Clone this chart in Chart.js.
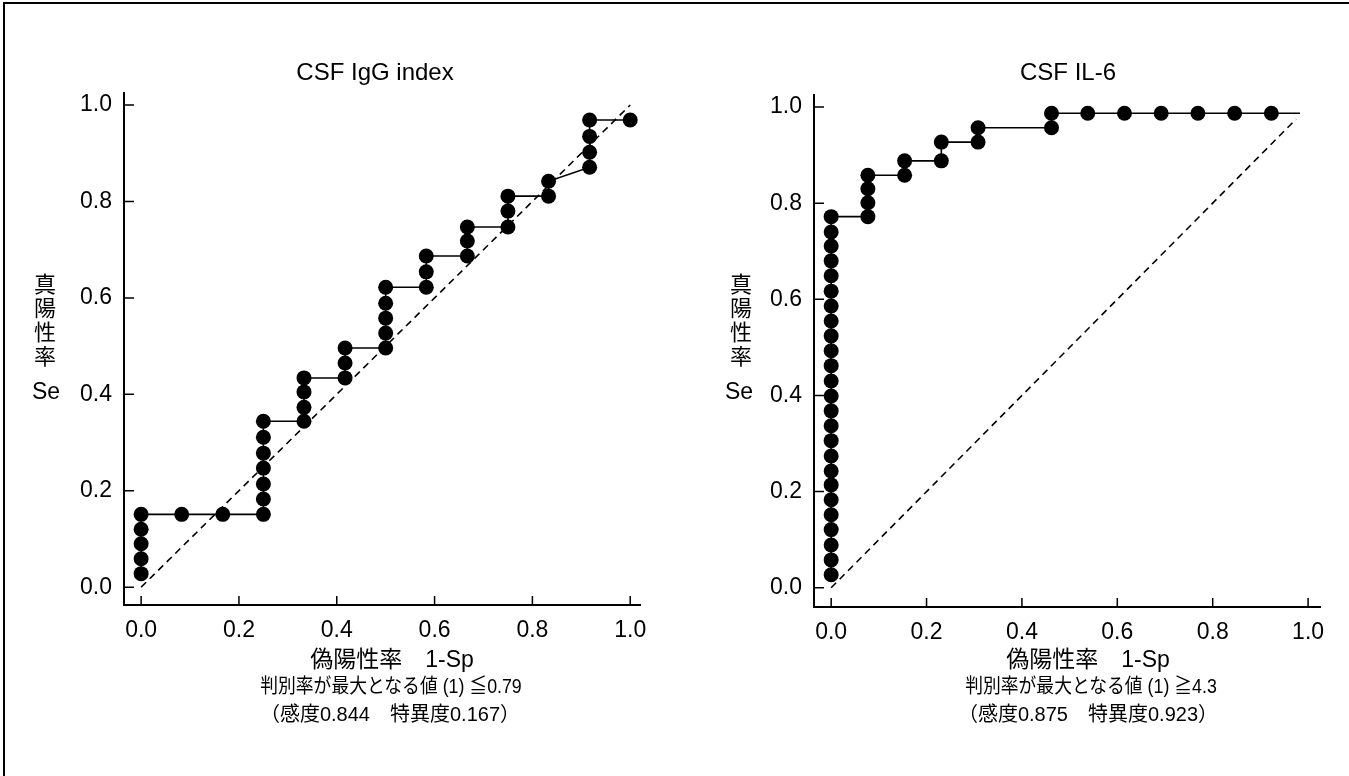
<!DOCTYPE html>
<html>
<head>
<meta charset="utf-8">
<script src="https://cdn.jsdelivr.net/npm/chart.js@4"></script>
<style>
body{margin:0;background:#fff;width:1349px;height:776px;overflow:hidden;position:relative;font-family:"Liberation Sans","Noto Sans CJK JP",sans-serif;color:#000}
.frame{position:absolute;left:3px;top:2px;width:1400px;height:800px;border-left:2px solid #000;border-top:2px solid #000}
canvas{position:absolute;top:0}
.txt{position:absolute;white-space:nowrap;transform:translateX(-50%);line-height:1}
.narrow{transform:translateX(-50%) scaleX(0.89)}
.ylab{position:absolute;transform:translateX(-50%);text-align:center;font-family:"Noto Sans CJK JP";font-size:22px;line-height:24px}
.se{position:absolute;transform:translateX(-50%);font-size:23px;line-height:1}
</style>
</head>
<body>
<div class="frame"></div>
<canvas id="igg" width="674" height="700" style="left:0"></canvas>
<canvas id="il6" width="675" height="700" style="left:674px"></canvas>

<div class="txt" style="left:375px;top:60px;font-size:24px">CSF IgG index</div>
<div class="txt" style="left:1068px;top:60px;font-size:24px">CSF IL-6</div>

<div class="ylab" style="left:45px;top:270px">真<br>陽<br>性<br>率</div>
<div class="se" style="left:46px;top:380px">Se</div>
<div class="ylab" style="left:741px;top:270px">真<br>陽<br>性<br>率</div>
<div class="se" style="left:739px;top:380px">Se</div>

<div class="txt" style="left:392px;top:648px;font-size:23px">偽陽性率　1-Sp</div>
<div class="txt narrow" style="left:391px;top:676px;font-size:20px">判別率が最大となる値 (1) ≦0.79</div>
<div class="txt" style="left:390px;top:704px;font-size:20px">（感度0.844　特異度0.167）</div>
<div class="txt" style="left:1088px;top:648px;font-size:23px">偽陽性率　1-Sp</div>
<div class="txt narrow" style="left:1091px;top:676px;font-size:20px">判別率が最大となる値 (1) ≧4.3</div>
<div class="txt" style="left:1088px;top:704px;font-size:20px">（感度0.875　特異度0.923）</div>

<script>
const tickValues = [0, 0.2, 0.4, 0.6, 0.8, 1.0];

// CSF IgG index (1-Sp, Se)
const iggFpr = [0, 0, 0, 0, 0, 0.083, 0.167, 0.25, 0.25, 0.25, 0.25, 0.25, 0.25, 0.25,
  0.333, 0.333, 0.333, 0.333, 0.417, 0.417, 0.417, 0.5, 0.5, 0.5, 0.5, 0.5,
  0.583, 0.583, 0.583, 0.667, 0.667, 0.667, 0.75, 0.75, 0.75, 0.833, 0.833,
  0.917, 0.917, 0.917, 0.917, 1.0];
const iggSe = [0.028, 0.059, 0.090, 0.120, 0.151, 0.151, 0.151, 0.151, 0.183, 0.214, 0.247, 0.278, 0.311, 0.344,
  0.344, 0.373, 0.405, 0.434, 0.434, 0.465, 0.496, 0.496, 0.527, 0.558, 0.589, 0.622,
  0.622, 0.654, 0.687, 0.687, 0.718, 0.747, 0.747, 0.780, 0.811, 0.811, 0.842,
  0.871, 0.902, 0.935, 0.969, 0.969];
const iggDiag = [0, 1];

// CSF IL-6 (last entry is the end of the line, no marker)
const il6Fpr = [0, 0, 0, 0, 0, 0, 0, 0, 0, 0, 0, 0, 0, 0, 0, 0, 0, 0, 0, 0, 0, 0, 0, 0, 0,
  0.077, 0.077, 0.077, 0.077, 0.154, 0.154, 0.231, 0.231, 0.308, 0.308, 0.462, 0.462,
  0.538, 0.615, 0.692, 0.769, 0.846, 0.923, 0.983];
const il6Se = [0.027, 0.058, 0.089, 0.121, 0.152, 0.183, 0.214, 0.243, 0.274, 0.306, 0.337, 0.368, 0.399,
  0.430, 0.462, 0.493, 0.524, 0.555, 0.586, 0.617, 0.649, 0.680, 0.711, 0.740, 0.772,
  0.772, 0.801, 0.830, 0.858, 0.858, 0.888, 0.888, 0.927, 0.927, 0.957, 0.957, 0.987,
  0.987, 0.987, 0.987, 0.987, 0.987, 0.987, 0.987];
const il6Diag = [0, 0.975];

const inwardTicks = {
  id: 'inwardTicks',
  beforeDatasetsDraw(chart) {
    const {ctx, chartArea, scales} = chart;
    ctx.save();
    ctx.strokeStyle = '#000';
    ctx.lineWidth = 1.5;
    ctx.beginPath();
    tickValues.forEach(v => {
      const x = scales.x.getPixelForValue(v);
      ctx.moveTo(x, chartArea.bottom);
      ctx.lineTo(x, chartArea.bottom - 9);
      const y = scales.y.getPixelForValue(v);
      ctx.moveTo(chartArea.left, y);
      ctx.lineTo(chartArea.left + 10, y);
    });
    ctx.stroke();
    ctx.restore();
  }
};

const axis = (min, max, fit) => ({
  type: 'linear',
  min: min,
  max: max,
  afterBuildTicks: s => { s.ticks = tickValues.map(v => ({value: v})); },
  afterFit: fit,
  grid: {display: false, drawTicks: false},
  border: {color: '#000', width: 2},
  ticks: {
    color: '#000',
    padding: 12,
    autoSkip: false,
    maxRotation: 0,
    font: {family: 'Liberation Sans', size: 23},
    callback: v => v.toFixed(1)
  }
});

function drawRoc(id, fpr, se, diag, markers, xr, yr, pad) {
  const roc = fpr.map((x, i) => ({x: x, y: se[i]}));
  new Chart(document.getElementById(id), {
    type: 'scatter',
    data: {
      datasets: [
        {
          data: diag.map(v => ({x: v, y: v})),
          showLine: true,
          borderColor: '#000',
          borderWidth: 1.6,
          borderDash: [7, 5],
          pointRadius: 0
        },
        {
          data: roc,
          showLine: true,
          borderColor: '#000',
          borderWidth: 1.6,
          pointRadius: c => c.dataIndex < markers ? 7.5 : 0,
          pointHoverRadius: 7.5,
          pointBackgroundColor: '#000',
          pointBorderWidth: 0
        }
      ]
    },
    options: {
      responsive: false,
      animation: false,
      events: [],
      layout: {padding: pad},
      plugins: {legend: {display: false}, tooltip: {enabled: false}},
      scales: {
        x: axis(xr[0], xr[1], s => { s.height = 40; }),
        y: axis(yr[0], yr[1], s => { s.width = 60; })
      }
    },
    plugins: [inwardTicks]
  });
}

drawRoc('igg', iggFpr, iggSe, iggDiag, iggFpr.length, [-0.035, 1.02], [-0.037, 1.025],
  {left: 64, right: 34, top: 93, bottom: 55});
drawRoc('il6', il6Fpr, il6Se, il6Diag, il6Fpr.length - 1, [-0.036, 1.025], [-0.04, 1.025],
  {left: 80, right: 29, top: 95, bottom: 53});
</script>
</body>
</html>
